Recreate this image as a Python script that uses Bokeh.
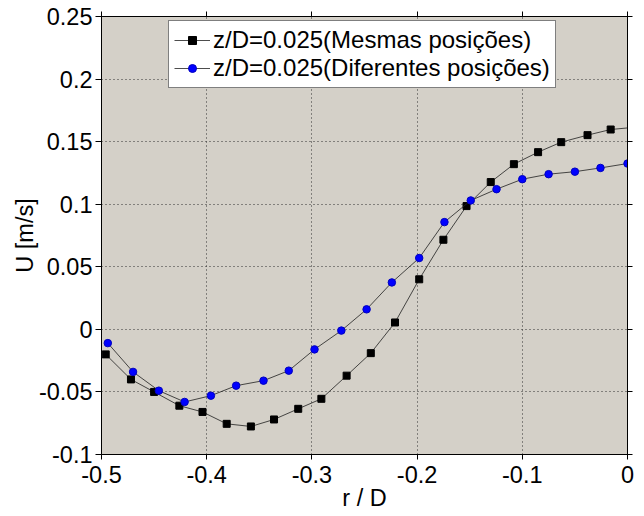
from bokeh.plotting import figure
from bokeh.models import FixedTicker, LinearAxis, Legend, LegendItem, Range1d
from bokeh.embed import file_html
from bokeh.resources import INLINE

# ---- data ----
r_mesmas = [-0.496, -0.472, -0.450, -0.426, -0.404, -0.381, -0.358, -0.336, -0.313,
            -0.291, -0.267, -0.244, -0.221, -0.198, -0.175, -0.153, -0.130, -0.108,
            -0.085, -0.063, -0.038, -0.016, 0.007]
u_mesmas = [-0.020, -0.040, -0.050, -0.061, -0.066, -0.0755, -0.0776, -0.072, -0.0635,
            -0.0555, -0.037, -0.019, 0.0055, 0.040, 0.0716, 0.0985, 0.1177, 0.132,
            0.1416, 0.1496, 0.1552, 0.1597, 0.1615]

r_diferentes = [-0.494, -0.470, -0.4455, -0.421, -0.396, -0.372, -0.346, -0.322, -0.2975,
                -0.272, -0.248, -0.224, -0.198, -0.174, -0.149, -0.1245, -0.100, -0.075,
                -0.050, -0.0257, 0.0]
u_diferentes = [-0.011, -0.034, -0.049, -0.058, -0.053, -0.045, -0.041, -0.033, -0.016,
                -0.001, 0.016, 0.0375, 0.057, 0.0857, 0.103, 0.112, 0.120, 0.124,
                0.126, 0.129, 0.1325]

series_labels = ["z/D=0.025(Mesmas posições)", "z/D=0.025(Diferentes posições)"]

x_ticks = [-0.5, -0.4, -0.3, -0.2, -0.1, 0.0]
x_tick_labels = ["-0.5", "-0.4", "-0.3", "-0.2", "-0.1", "0"]
y_ticks = [-0.1, -0.05, 0.0, 0.05, 0.1, 0.15, 0.2, 0.25]
y_tick_labels = ["-0.1", "-0.05", "0", "0.05", "0.1", "0.15", "0.2", "0.25"]

x_label = "r / D"
y_label = "U [m/s]"

FONT = "Liberation Sans"
FSIZE = "23.5px"

x_start, x_end = -0.5, 0.0
y_start, y_end = -0.1, 0.25

p = figure(width=644, height=516,
           x_range=Range1d(x_start, x_end), y_range=Range1d(y_start, y_end),
           output_backend="svg", toolbar_location=None,
           min_border_left=101, min_border_right=17,
           min_border_top=16, min_border_bottom=62)
p.background_fill_color = "#d4d0c8"
p.border_fill_color = "white"
p.outline_line_color = "black"
p.outline_line_width = 1

def style_axis(ax, ticks, labels, show_labels=True):
    ax.ticker = FixedTicker(ticks=ticks)
    if show_labels:
        ax.major_label_overrides = dict(zip(ticks, labels))
    else:
        ax.major_label_overrides = {t: "" for t in ticks}
        ax.major_label_standoff = 0
    ax.major_label_text_font = FONT
    ax.major_label_text_font_size = FSIZE
    ax.major_label_text_color = "black"
    ax.axis_line_color = "black"
    ax.major_tick_line_color = "black"
    ax.major_tick_in = 0
    ax.major_tick_out = 6
    ax.minor_tick_in = 0
    ax.minor_tick_out = 0
    ax.axis_label_text_font = FONT
    ax.axis_label_text_font_size = FSIZE
    ax.axis_label_text_font_style = "normal"
    ax.axis_label_text_color = "black"

style_axis(p.xaxis[0], x_ticks, x_tick_labels)
p.xaxis[0].axis_label = x_label
p.xaxis[0].major_tick_out = 5
p.xaxis[0].major_label_standoff = 6
p.xaxis[0].axis_label_standoff = -1

style_axis(p.yaxis[0], y_ticks, y_tick_labels)
p.yaxis[0].axis_label = y_label
p.yaxis[0].major_label_standoff = 3
p.yaxis[0].axis_label_standoff = -2

top_axis = LinearAxis()
style_axis(top_axis, x_ticks, x_tick_labels, show_labels=False)
top_axis.major_tick_out = 5
p.add_layout(top_axis, "above")

right_axis = LinearAxis()
style_axis(right_axis, y_ticks, y_tick_labels, show_labels=False)
right_axis.major_tick_out = 5
p.add_layout(right_axis, "right")

for g in (p.xgrid[0], p.ygrid[0]):
    g.grid_line_color = "#303030"
    g.grid_line_dash = "1 3"
    g.grid_line_width = 1
p.xgrid[0].ticker = FixedTicker(ticks=x_ticks)
p.ygrid[0].ticker = FixedTicker(ticks=y_ticks)

l1 = p.line(r_mesmas, u_mesmas, line_color="#202020", line_width=0.8)
s1 = p.scatter(r_mesmas, u_mesmas, marker="square", size=7,
               fill_color="black", line_color="black")
l2 = p.line(r_diferentes, u_diferentes, line_color="#202020", line_width=0.8)
s2 = p.scatter(r_diferentes, u_diferentes, marker="circle", size=7.5,
               fill_color="#0000ff", line_color="#0000c0")

legend = Legend(items=[LegendItem(label=series_labels[0], renderers=[l1, s1]),
                       LegendItem(label=series_labels[1], renderers=[l2, s2])],
                location=(67, 366))
legend.margin = 0
legend.padding = 5
legend.spacing = 0
legend.glyph_width = 36
legend.glyph_height = 20
legend.label_height = 26
legend.label_standoff = 3
legend.label_text_font = FONT
legend.label_text_font_size = "24px"
legend.label_text_color = "black"
legend.border_line_color = "black"
legend.border_line_width = 1
legend.background_fill_color = "white"
legend.background_fill_alpha = 1
p.add_layout(legend)

open("out.html", "w").write(file_html(p, INLINE))
